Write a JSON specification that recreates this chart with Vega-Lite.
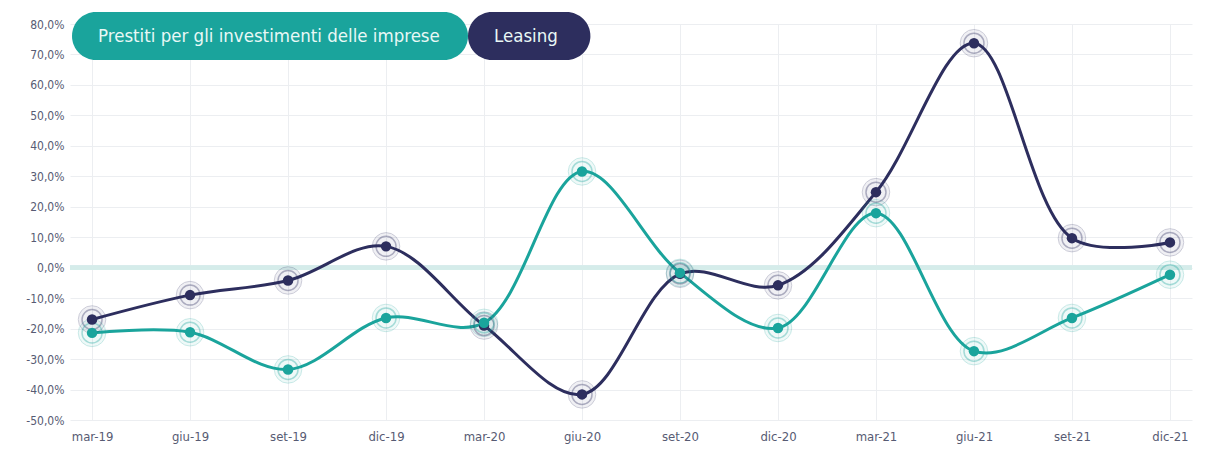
{
  "$schema": "https://vega.github.io/schema/vega-lite/v6.json",
  "autosize": "none",
  "width": 1122,
  "height": 396,
  "padding": {"left": 70, "top": 24, "right": 23, "bottom": 31},
  "background": "#ffffff",
  "config": {
    "locale": {"number": {"decimal": ",", "thousands": ".", "grouping": [3], "currency": ["€", ""], "minus": "-"}},
    "view": {"stroke": null},
    "font": "Liberation Sans Narrow, DejaVu Sans Condensed, Roboto",
    "axis": {
      "domain": false,
      "ticks": false,
      "grid": true,
      "gridColor": "#eceef1",
      "gridWidth": 1,
      "labelColor": "#575b73",
      "labelFont": "Liberation Sans Narrow, DejaVu Sans Condensed, Roboto",
      "title": null
    }
  },
  "data": {
    "values": [
      {"periodo": "mar-19", "serie": "Leasing", "valore": -0.17},
      {"periodo": "giu-19", "serie": "Leasing", "valore": -0.09},
      {"periodo": "set-19", "serie": "Leasing", "valore": -0.042},
      {"periodo": "dic-19", "serie": "Leasing", "valore": 0.07},
      {"periodo": "mar-20", "serie": "Leasing", "valore": -0.19},
      {"periodo": "giu-20", "serie": "Leasing", "valore": -0.416},
      {"periodo": "set-20", "serie": "Leasing", "valore": -0.02},
      {"periodo": "dic-20", "serie": "Leasing", "valore": -0.058},
      {"periodo": "mar-21", "serie": "Leasing", "valore": 0.248},
      {"periodo": "giu-21", "serie": "Leasing", "valore": 0.737},
      {"periodo": "set-21", "serie": "Leasing", "valore": 0.097},
      {"periodo": "dic-21", "serie": "Leasing", "valore": 0.083},
      {"periodo": "mar-19", "serie": "Prestiti per gli investimenti delle imprese", "valore": -0.214},
      {"periodo": "giu-19", "serie": "Prestiti per gli investimenti delle imprese", "valore": -0.212},
      {"periodo": "set-19", "serie": "Prestiti per gli investimenti delle imprese", "valore": -0.334},
      {"periodo": "dic-19", "serie": "Prestiti per gli investimenti delle imprese", "valore": -0.165},
      {"periodo": "mar-20", "serie": "Prestiti per gli investimenti delle imprese", "valore": -0.181},
      {"periodo": "giu-20", "serie": "Prestiti per gli investimenti delle imprese", "valore": 0.316},
      {"periodo": "set-20", "serie": "Prestiti per gli investimenti delle imprese", "valore": -0.017},
      {"periodo": "dic-20", "serie": "Prestiti per gli investimenti delle imprese", "valore": -0.198},
      {"periodo": "mar-21", "serie": "Prestiti per gli investimenti delle imprese", "valore": 0.179},
      {"periodo": "giu-21", "serie": "Prestiti per gli investimenti delle imprese", "valore": -0.274},
      {"periodo": "set-21", "serie": "Prestiti per gli investimenti delle imprese", "valore": -0.165},
      {"periodo": "dic-21", "serie": "Prestiti per gli investimenti delle imprese", "valore": -0.023}
    ]
  },
  "encoding": {
    "x": {
      "field": "periodo",
      "type": "ordinal",
      "sort": null,
      "scale": {"type": "point", "padding": 0.225},
      "axis": {"labelAngle": 0, "labelFontSize": 13, "labelPadding": 10}
    },
    "y": {
      "field": "valore",
      "type": "quantitative",
      "scale": {"domain": [-0.5, 0.8], "nice": false, "zero": false},
      "axis": {
        "values": [-0.5, -0.4, -0.3, -0.2, -0.1, 0, 0.1, 0.2, 0.3, 0.4, 0.5, 0.6, 0.7, 0.8],
        "format": ".1%",
        "labelFontSize": 12,
        "labelPadding": 6
      }
    },
    "color": {
      "field": "serie",
      "type": "nominal",
      "scale": {
        "domain": ["Prestiti per gli investimenti delle imprese", "Leasing"],
        "range": ["#1aa49c", "#2d2e5e"]
      },
      "legend": {
        "title": null,
        "orient": "none",
        "legendX": 2,
        "legendY": -12,
        "direction": "horizontal",
        "padding": 0,
        "columnPadding": -22,
        "symbolSize": 2304,
        "symbolStrokeWidth": 0,
        "symbolOpacity": 1,
        "labelOffset": -22,
        "labelColor": "#e9f8f6",
        "labelFontSize": 18.5,
        "labelLimit": 0,
        "labelFont": "Liberation Sans Narrow, DejaVu Sans Condensed, Roboto"
      }
    }
  },
  "layer": [
    {
      "mark": {"type": "rule", "stroke": "#d5ecea", "strokeWidth": 4},
      "encoding": {"y": {"datum": 0}, "x": null, "color": null}
    },
    {
      "mark": {"type": "point", "filled": true, "opacity": 0, "size": 10},
      "encoding": {
        "shape": {
          "field": "serie",
          "type": "nominal",
          "scale": {
            "domain": ["Prestiti per gli investimenti delle imprese", "Leasing"],
            "range": [
              "M0,-1H14.5A1,1 0 0 1 14.5,1H0A1,1 0 0 1 0,-1Z",
              "M0,-1H3.1A1,1 0 0 1 3.1,1H0A1,1 0 0 1 0,-1Z"
            ]
          }
        }
      }
    },
    {
      "mark": {"type": "line", "interpolate": "catmull-rom", "strokeWidth": 3}
    },
    {
      "mark": {"type": "point", "filled": true, "size": 760, "opacity": 0.07}
    },
    {
      "mark": {"type": "point", "filled": false, "size": 760, "strokeWidth": 1, "opacity": 0.2}
    },
    {
      "mark": {"type": "point", "filled": false, "size": 400, "strokeWidth": 1.5, "opacity": 0.35}
    },
    {
      "mark": {"type": "point", "filled": true, "size": 110, "opacity": 1}
    }
  ]
}
